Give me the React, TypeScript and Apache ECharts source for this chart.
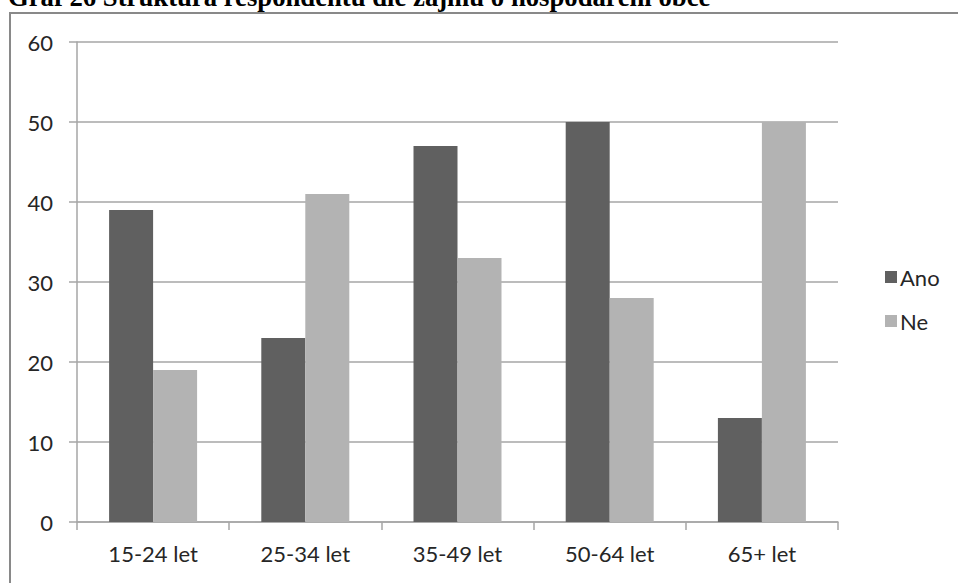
import React, { useEffect, useRef } from "react";
import * as echarts from "echarts";

const categories = ["15-24 let", "25-34 let", "35-49 let", "50-64 let", "65+ let"];
const anoValues = [39, 23, 47, 50, 13];
const neValues = [19, 41, 33, 28, 50];
const titleText = "Graf 26 Struktura respondentů dle zájmu o hospodaření obce";

export default function App() {
  const ref = useRef<HTMLDivElement>(null);
  useEffect(() => {
    if (!ref.current) return;
    const chart = echarts.init(ref.current, null, { renderer: "svg" });
    const font = "Lato, 'Open Sans', sans-serif";
    const labelColor = "#262626";
    chart.setOption({
      animation: false,
      backgroundColor: "#ffffff",
      graphic: [
        {
          type: "text",
          x: 8,
          y: 10,
          z: -10,
          style: {
            text: titleText,
            font: "bold 26.7px 'Liberation Serif', 'Times New Roman', serif",
            fill: "#000000",
            textVerticalAlign: "bottom",
          },
        },
        {
          type: "rect",
          z: -5,
          shape: { x: 10, y: 13, width: 1000, height: 700 },
          style: { fill: "#ffffff", stroke: "#898989", lineWidth: 2 },
        },
      ],
      grid: { left: 77, right: 120, top: 42, bottom: 61, containLabel: false },
      legend: {
        orient: "vertical",
        left: 880,
        top: 261,
        itemWidth: 12,
        itemHeight: 12,
        itemGap: 22,
        itemStyle: { borderWidth: 0 },
        icon: "rect",
        textStyle: { fontFamily: font, fontSize: 22, color: labelColor, padding: [0, 0, 0, -2] },
        data: ["Ano", "Ne"],
      },
      xAxis: {
        type: "category",
        data: categories,
        axisLine: { lineStyle: { color: "#a6a6a6", width: 1.5 } },
        axisTick: { show: true, length: 8, lineStyle: { color: "#a6a6a6", width: 1.5 } },
        axisLabel: { fontFamily: font, fontSize: 22, color: labelColor, margin: 20 },
      },
      yAxis: {
        type: "value",
        min: 0,
        max: 60,
        interval: 10,
        axisLine: { show: true, lineStyle: { color: "#a6a6a6", width: 1.5 } },
        axisTick: { show: true, length: 8, lineStyle: { color: "#a6a6a6", width: 1.5 } },
        axisLabel: { fontFamily: font, fontSize: 22, color: labelColor, margin: 24 },
        splitLine: { lineStyle: { color: "#a6a6a6", width: 1.5 } },
      },
      series: [
        {
          name: "Ano",
          type: "bar",
          data: anoValues,
          itemStyle: { color: "#606060" },
          barWidth: 44,
          barGap: "0%",
        },
        {
          name: "Ne",
          type: "bar",
          data: neValues,
          itemStyle: { color: "#b3b3b3" },
          barWidth: 44,
          barGap: "0%",
        },
      ],
    });
    return () => chart.dispose();
  }, []);
  return (
    <div
      ref={ref}
      style={{ position: "fixed", left: 0, top: 0, width: 958, height: 583 }}
    />
  );
}
